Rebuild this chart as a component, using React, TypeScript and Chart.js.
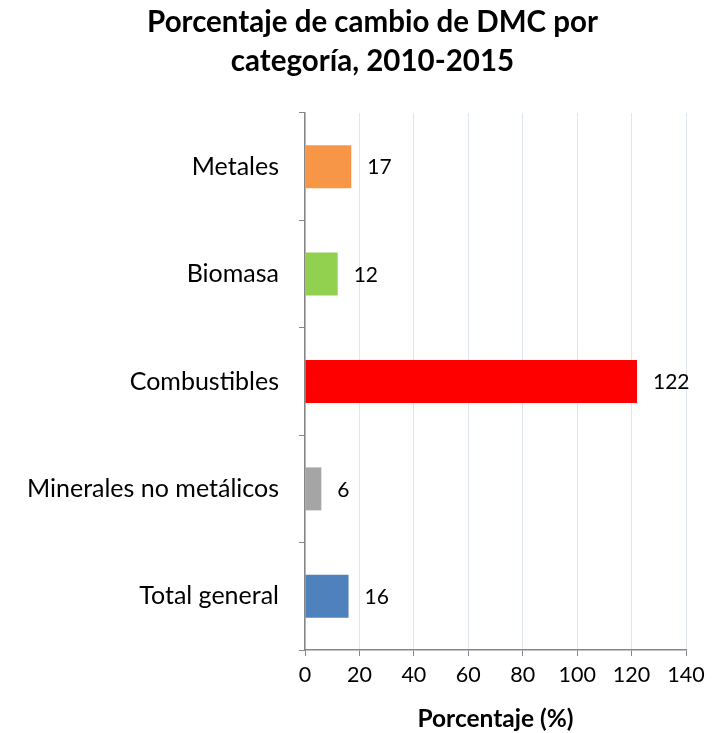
import React, { useEffect, useRef } from "react";
import { Chart, registerables } from "chart.js";

Chart.register(...registerables);

const categories = ["Metales", "Biomasa", "Combustibles", "Minerales no metálicos", "Total general"];
const values = [17, 12, 122, 6, 16];
const barColors = ["#F79646", "#92D050", "#FF0000", "#A5A5A5", "#4F81BD"];
const titleLines = ["Porcentaje de cambio de DMC por", "categoría, 2010-2015"];
const xAxisTitle = "Porcentaje (%)";
const xMin = 0;
const xMax = 140;
const xStep = 20;

const FONT = "Lato, 'Open Sans', sans-serif";
const W = 709;
const H = 725;

const valueLabels = {
  id: "valueLabels",
  afterDatasetsDraw(chart: any) {
    const ctx = chart.ctx;
    const meta = chart.getDatasetMeta(0);
    ctx.save();
    ctx.font = `21px ${FONT}`;
    ctx.fillStyle = "#000";
    ctx.textAlign = "left";
    ctx.textBaseline = "middle";
    meta.data.forEach((bar: any, i: number) => {
      ctx.fillText(String(values[i]), bar.x + 16, bar.y + 1);
    });
    ctx.restore();
  },
};

const titles = {
  id: "titles",
  afterDraw(chart: any) {
    const ctx = chart.ctx;
    ctx.save();
    ctx.fillStyle = "#000";
    ctx.textAlign = "center";
    ctx.textBaseline = "alphabetic";
    ctx.font = `bold 29.5px ${FONT}`;
    ctx.fillText(titleLines[0], 364.5, 24);
    ctx.fillText(titleLines[1], 364.5, 63);
    const xs = chart.scales.x;
    ctx.font = `bold 24.5px ${FONT}`;
    ctx.fillText(xAxisTitle, (xs.left + xs.right) / 2, 719);
    ctx.restore();
  },
};

export default function App() {
  const ref = useRef<HTMLCanvasElement | null>(null);
  useEffect(() => {
    document.documentElement.style.overflow = "hidden";
    document.body.style.overflow = "hidden";
    if (!ref.current) return;
    const chart = new Chart(ref.current, {
      type: "bar",
      data: {
        labels: categories,
        datasets: [
          {
            data: values,
            backgroundColor: barColors,
            borderWidth: 0,
            categoryPercentage: 0.4,
            barPercentage: 1,
          },
        ],
      },
      options: {
        indexAxis: "y",
        animation: false,
        responsive: false,
        maintainAspectRatio: false,
        layout: { padding: { left: 18, right: 31, top: 105, bottom: 0 } },
        plugins: {
          legend: { display: false },
          tooltip: { enabled: false },
          title: { display: false },
        },
        scales: {
          x: {
            min: xMin,
            max: xMax,
            ticks: {
              stepSize: xStep,
              color: "#000",
              font: { family: FONT, size: 21.5 },
              padding: 6,
              maxRotation: 0,
            },
            grid: {
              color: "#DFE6EF",
              tickColor: "#868686",
              tickLength: 6,
              lineWidth: 1,
            },
            border: { color: "#868686", width: 1.5 },
            afterFit(scale: any) {
              scale.height = H - 642;
            },
          },
          y: {
            ticks: {
              color: "#000",
              font: { family: FONT, size: 25 },
              padding: 20,
            },
            grid: {
              drawOnChartArea: false,
              tickColor: "#868686",
              tickLength: 6,
              offset: true,
            },
            border: { color: "#868686", width: 1.5 },
            afterFit(scale: any) {
              scale.width = 297 - 18;
            },
          },
        },
      },
      plugins: [valueLabels, titles],
    });
    return () => chart.destroy();
  }, []);
  return (
    <div style={{ width: W, height: H }}>
      <canvas ref={ref} width={W} height={H} style={{ display: "block" }} />
    </div>
  );
}
